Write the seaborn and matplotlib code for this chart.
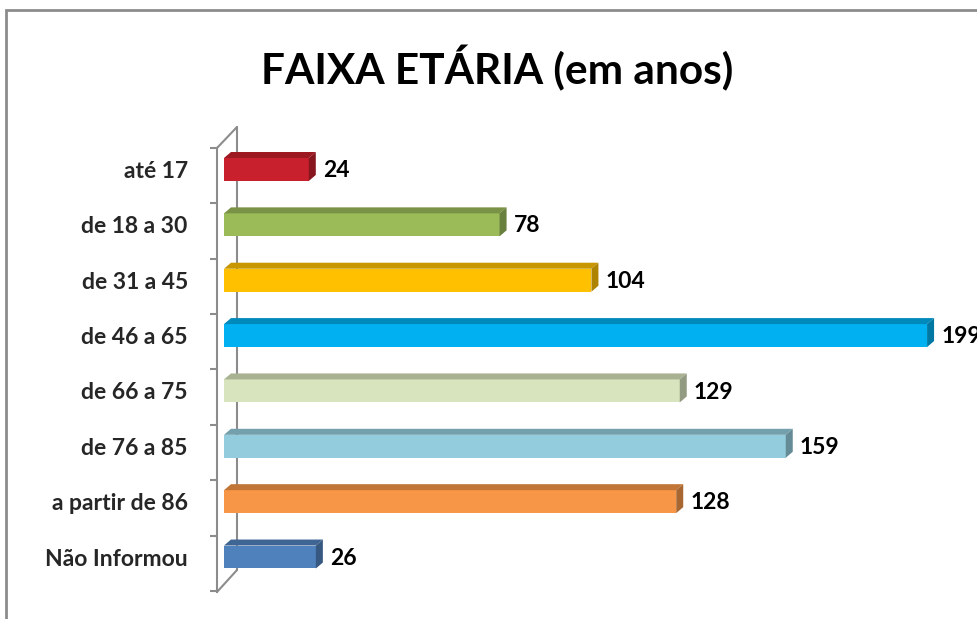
import matplotlib
matplotlib.use("Agg")
import matplotlib.pyplot as plt
import matplotlib.colors as mcolors
from matplotlib.patches import Polygon, Rectangle
from matplotlib.lines import Line2D
import seaborn as sns
import numpy as np

# data
categories = ["até 17", "de 18 a 30", "de 31 a 45", "de 46 a 65",
              "de 66 a 75", "de 76 a 85", "a partir de 86", "Não Informou"]
values = [24, 78, 104, 199, 129, 159, 128, 26]
bar_colors = ["#C8202C", "#9BBB59", "#FFC000", "#00B0F0",
              "#D7E4BD", "#93CDDD", "#F79646", "#4F81BD"]

sns.set_style("white")
plt.rcParams['font.family'] = ['Lato', 'DejaVu Sans']

W, H = 977, 619
fig = plt.figure(figsize=(W / 100, H / 100), dpi=100)

# axes placement in pixels (front plane of the 3D wall)
ax_left, ax_top, ax_bottom = 217, 148, 592
ax = fig.add_axes([ax_left / W, 1 - ax_bottom / H, (W - ax_left) / W, (ax_bottom - ax_top) / H])

sns.barplot(x=values, y=categories, hue=categories, palette=bar_colors,
            legend=False, orient="h", width=0.415, saturation=1, ax=ax)

px_x = 3.533            # pixels per unit
xmin = -(224 - ax_left) / px_x
ax.set_xlim(xmin, xmin + (W - ax_left) / px_x)
ytop = -0.388
ax.set_ylim(ytop + 8.02, ytop)

# fake 3D faces on each bar
dx = 7 / px_x
dy = -6 / 55.4
for p in ax.patches:
    x0, y0 = p.get_x(), p.get_y()
    x1, y1 = x0 + p.get_width(), y0 + p.get_height()
    fc = np.array(mcolors.to_rgb(p.get_facecolor()))
    top = fc * 0.78
    side = fc * 0.68
    ax.add_patch(Polygon([(x0, y0), (x1, y0), (x1 + dx, y0 + dy), (x0 + dx, y0 + dy)],
                         closed=True, facecolor=top, edgecolor="none", clip_on=False))
    ax.add_patch(Polygon([(x1, y0), (x1 + dx, y0 + dy), (x1 + dx, y1 + dy), (x1, y1)],
                         closed=True, facecolor=side, edgecolor="none", clip_on=False))
    p.set_edgecolor("none")

# value labels
for i, v in enumerate(values):
    ax.text(v + 14 / px_x, i + 0.02, str(v), va="center", ha="left",
            fontsize=16.5, fontweight="bold", color="black", clip_on=False)

# axis styling
for s in ["top", "right", "bottom"]:
    ax.spines[s].set_visible(False)
wall = "#8C8C8C"
ax.spines["left"].set_color(wall)
ax.spines["left"].set_linewidth(1.5)
ax.set_xticks([])
ax.set_yticks(range(len(categories)))
ax.set_yticklabels(categories, fontsize=16.5, fontweight="bold")
ax.tick_params(axis="y", which="major", length=0, pad=21)
ax.set_yticks([ytop + k for k in range(9)], minor=True)
ax.tick_params(axis="y", which="minor", left=True, length=5, width=1.5,
               color=wall, direction="out")
ax.set_xlabel("")
ax.set_ylabel("")
ax.patch.set_alpha(0)

# back wall lines of the 3D axis (drawn behind the bars)
fx = lambda v: v / W
fy = lambda v: 1 - v / H
wall_lines = [
    ([217, 237], [148, 127]),
    ([237, 237], [127, 570]),
    ([217, 237], [592, 570]),
]
for xs, ys in wall_lines:
    fig.add_artist(Line2D([fx(x) for x in xs], [fy(y) for y in ys], zorder=-1,
                          color=wall, lw=1.5, transform=fig.transFigure))

# outer frame
fig.add_artist(Rectangle((fx(6), -0.1), 2, fy(10) + 0.1, fill=False,
                         edgecolor="#8C8C8C", lw=2, transform=fig.transFigure))

fig.text(0.509, fy(84), "FAIXA ETÁRIA (em anos)", ha="center", va="baseline",
         fontsize=30.5, fontweight="bold", color="black")

fig.savefig("out.png", dpi=100)
